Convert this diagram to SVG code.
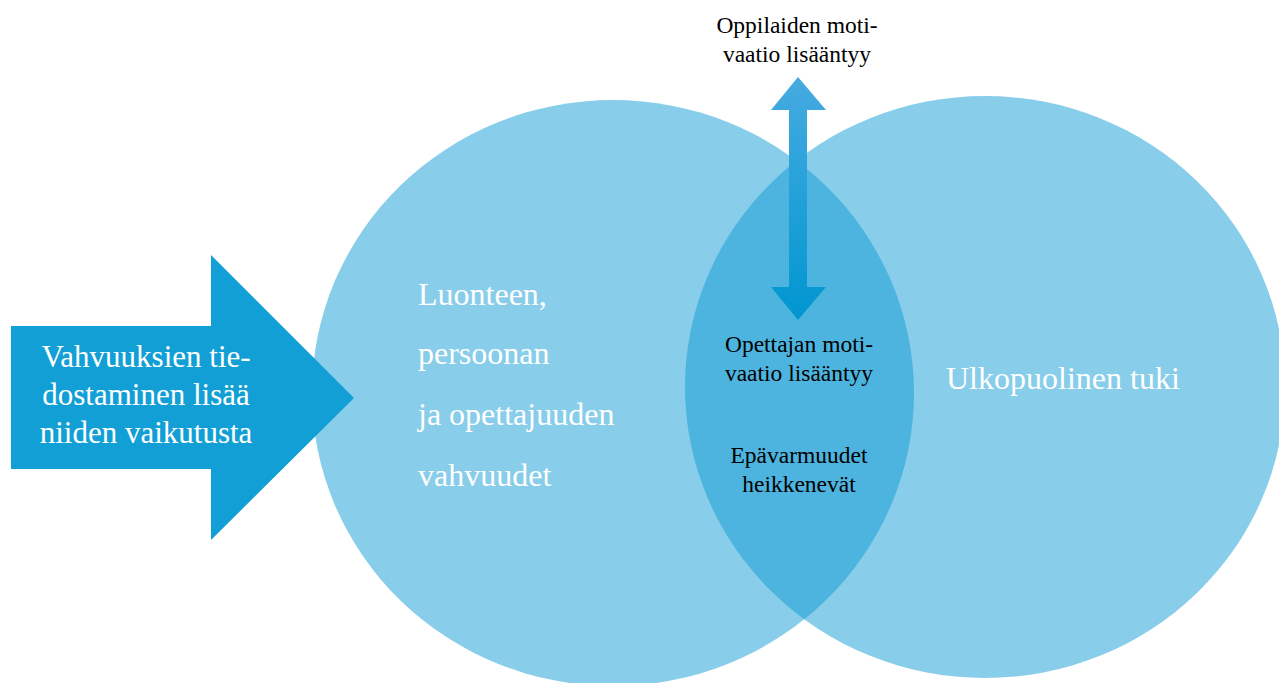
<svg xmlns="http://www.w3.org/2000/svg" width="1279" height="683" viewBox="0 0 1279 683">
<style>
.circ{fill:#88CDEA}
.lens{fill:#4CB4DF}
.w{fill:#ffffff;font-family:"Liberation Serif","Times New Roman",serif}
.k{fill:#000000;font-family:"Liberation Serif","Times New Roman",serif;font-size:23.5px;text-anchor:middle}
</style>
<defs>
<clipPath id="clipLeft"><ellipse cx="613" cy="393" rx="301" ry="293"/></clipPath>
<linearGradient id="vg" x1="0" y1="0" x2="0" y2="1">
<stop offset="0" stop-color="#46ABE1"/>
<stop offset="1" stop-color="#0096D0"/>
</linearGradient>
</defs>
<rect width="1279" height="683" fill="#ffffff"/>
<g id="circle-left"><ellipse class="circ" cx="613" cy="393" rx="301" ry="293"/></g>
<g id="circle-right"><ellipse class="circ" cx="985" cy="387" rx="300" ry="291"/></g>
<g id="overlap"><ellipse class="lens" cx="985" cy="387" rx="300" ry="291" clip-path="url(#clipLeft)"/></g>
<g id="connectors">
<path d="M789,110 L771,110 L798,77 L826,110 L807,110 L807,287 L826,287 L798,320 L771,287 L789,287 Z" fill="url(#vg)"/>
</g>
<g id="input-arrow">
<path d="M11,326 L211,326 L211,255 L354,398 L211,540 L211,469 L11,469 Z" fill="#129FD6"/>
<text class="w" font-size="31" text-anchor="middle"><tspan x="146" y="367">Vahvuuksien tie-</tspan><tspan x="146" y="405">dostaminen lisää</tspan><tspan x="146" y="443">niiden vaikutusta</tspan></text>
</g>
<g id="left-label">
<text class="w" font-size="32"><tspan x="418" y="305">Luonteen,</tspan><tspan x="418" y="364">persoonan</tspan><tspan x="418" y="425">ja opettajuuden</tspan><tspan x="418" y="486">vahvuudet</tspan></text>
</g>
<g id="right-label">
<text class="w" font-size="32" x="946" y="389">Ulkopuolinen tuki</text>
</g>
<g id="top-label">
<text class="k"><tspan x="797" y="33">Oppilaiden moti-</tspan><tspan x="797" y="62">vaatio lisääntyy</tspan></text>
</g>
<g id="lens-label">
<text class="k"><tspan x="799" y="352">Opettajan moti-</tspan><tspan x="799" y="381">vaatio lisääntyy</tspan><tspan x="799" y="463">Epävarmuudet</tspan><tspan x="799" y="492">heikkenevät</tspan></text>
</g>
</svg>
